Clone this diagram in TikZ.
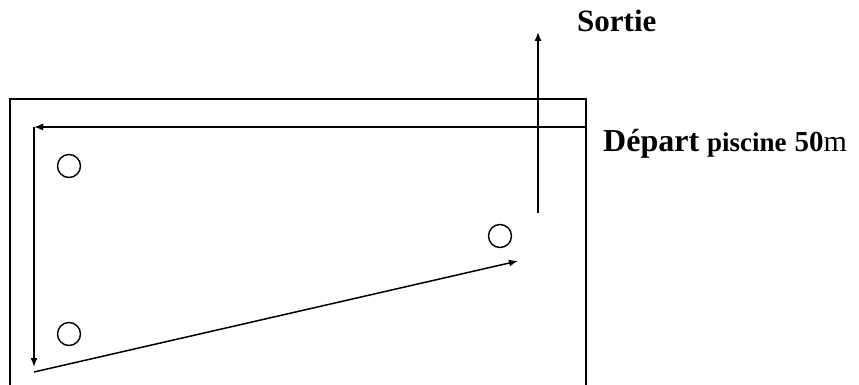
\documentclass[tikz,border=0pt]{standalone}
\usepackage{fontspec}
\setmainfont{Liberation Serif}
\usetikzlibrary{arrows.meta}
\begin{document}
\begin{tikzpicture}[x=1pt,y=-1pt,
  wall/.style={line width=1.8pt},
  route/.style={line width=1.5pt,-{Latex[length=9pt,width=7pt]}},
  buoy/.style={circle,draw,line width=1.4pt,minimum size=23pt,inner sep=0pt},
  lbl/.style={anchor=base west,inner sep=0pt}]
\useasboundingbox (0,0) rectangle (859,385);
% pool walls (bottom open)
\draw[wall] (10,386) -- (10,99) -- (586,99) -- (586,386);
% buoys
\node[buoy] (b1) at (69,166) {};
\node[buoy] (b2) at (69,334) {};
\node[buoy] (b3) at (500,236) {};
% route
\coordinate (start) at (586,127);
\coordinate (c1) at (34,127);
\coordinate (c1b) at (34,128);
\coordinate (c2) at (34,367);
\coordinate (d1) at (34,372);
\coordinate (d2) at (518,261);
\coordinate (s1) at (538,213);
\coordinate (s2) at (538,32);
\draw[route] (start) -- (c1);
\draw[line width=1.5pt] (c1) -- (c1b);
\draw[route] (c1b) -- (c2);
\draw[route] (d1) -- (d2);
\draw[route] (s1) -- (s2);
% labels
\node[lbl] (sortie) at (577,32) {\fontsize{31}{36}\selectfont\bfseries Sortie};
\node[lbl] (depart) at (603,151) {\fontsize{32}{36}\selectfont\bfseries Départ {\fontsize{27}{30}\selectfont piscine} {\fontsize{29}{30}\selectfont 50}{\fontsize{30}{30}\selectfont\mdseries m}};
\end{tikzpicture}
\end{document}
